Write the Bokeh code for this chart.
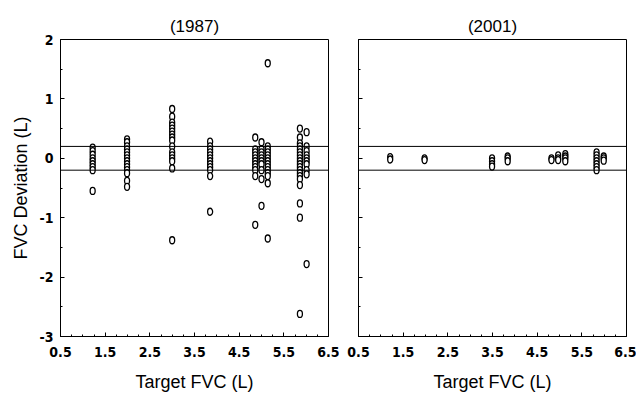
from bokeh.plotting import figure
from bokeh.layouts import row
from bokeh.models import Range1d, FixedTicker, Span
from bokeh.embed import file_html
from bokeh.resources import INLINE

# ---- data ----
targets_1987 = [1.22, 1.99, 3.0, 3.85, 4.86, 5.0, 5.14, 5.86, 6.01]
dev_1987 = [
    [0.18, 0.12, 0.06, 0.0, -0.05, -0.1, -0.15, -0.2, -0.55],
    [0.32, 0.27, 0.2, 0.15, 0.1, 0.05, 0.0, -0.05, -0.1, -0.15, -0.2, -0.25, -0.38, -0.48],
    [0.83, 0.7, 0.6, 0.55, 0.5, 0.45, 0.4, 0.35, 0.3, 0.2, 0.1, 0.05, 0.0, -0.05, -0.17, -1.38],
    [0.28, 0.2, 0.15, 0.1, 0.05, 0.0, -0.05, -0.1, -0.15, -0.2, -0.3, -0.9],
    [0.35, 0.15, 0.1, 0.05, 0.0, -0.05, -0.1, -0.15, -0.2, -0.3, -1.12],
    [0.27, 0.15, 0.1, 0.05, 0.0, -0.05, -0.1, -0.2, -0.35, -0.8],
    [1.6, 0.2, 0.15, 0.1, 0.05, 0.0, -0.05, -0.1, -0.15, -0.2, -0.25, -0.3, -0.42, -1.35],
    [0.5, 0.35, 0.25, 0.2, 0.15, 0.1, 0.05, 0.0, -0.05, -0.1, -0.15, -0.2, -0.25, -0.3, -0.35, -0.45, -0.76, -1.0, -2.62],
    [0.44, 0.2, 0.12, 0.05, 0.0, -0.05, -0.1, -0.2, -0.27, -1.78],
]
targets_2001 = [1.21, 1.98, 3.49, 3.84, 4.82, 4.97, 5.13, 5.83, 5.99]
dev_2001 = [
    [0.02, -0.02],
    [0.0, -0.03],
    [0.0, -0.05, -0.1, -0.14],
    [0.03, 0.0, -0.05],
    [0.0, -0.03],
    [0.05, 0.0, -0.03],
    [0.07, 0.03, 0.0, -0.05],
    [0.1, 0.05, 0.0, -0.05, -0.1, -0.15, -0.2],
    [0.03, 0.0, -0.04],
]
limits = [0.2, -0.2]
x_ticks = [0.5, 1.5, 2.5, 3.5, 4.5, 5.5, 6.5]
y_ticks = [-3, -2, -1, 0, 1, 2]
y_tick_labels = ["-3", "-2", "-1", "0", "1", "2"]
titles = ["(1987)", "(2001)"]

TICK_FONT = "'DejaVu Sans Condensed', 'Liberation Sans Narrow', 'Liberation Sans'"
LABEL_FONT = "Liberation Sans"


def flatten(targets, devs):
    xs, ys = [], []
    for t, d in zip(targets, devs):
        for v in d:
            xs.append(t)
            ys.append(v)
    return xs, ys


def make_panel(title, targets, devs, show_ylabels, width, bl, br):
    p = figure(width=width, height=394, output_backend="svg", toolbar_location=None,
               x_range=Range1d(0.5, 6.5), y_range=Range1d(-3, 2),
               min_border_left=bl, min_border_right=br, min_border_top=39,
               min_border_bottom=58, title=title)
    p.title.align = "center"
    p.title.text_font = LABEL_FONT
    p.title.text_font_size = "17px"
    p.title.text_font_style = "normal"
    p.title.text_color = "black"
    p.title.standoff = 7
    p.grid.visible = False
    p.outline_line_color = "black"
    p.outline_line_width = 1
    p.background_fill_color = "white"
    p.border_fill_color = "white"

    xa = p.xaxis[0]
    xa.ticker = FixedTicker(ticks=x_ticks, minor_ticks=[0.5 + 0.25 * i for i in range(25)])
    xa.axis_label = "Target FVC (L)"
    xa.axis_label_text_font = LABEL_FONT
    xa.axis_label_text_font_size = "18px"
    xa.axis_label_text_font_style = "normal"
    xa.axis_label_text_color = "black"
    xa.axis_label_standoff = 12
    xa.major_label_text_font = TICK_FONT
    xa.major_label_text_font_style = "bold"
    xa.major_label_text_font_size = "14px"
    xa.major_label_text_color = "black"
    xa.major_tick_in = 4
    xa.major_tick_out = 0
    xa.minor_tick_in = 2
    xa.minor_tick_out = 0
    xa.major_tick_line_color = "black"
    xa.minor_tick_line_color = "black"
    xa.axis_line_color = None
    xa.major_label_standoff = 10

    ya = p.yaxis[0]
    ya.ticker = FixedTicker(ticks=y_ticks, minor_ticks=[-3 + 0.5 * i for i in range(11)])
    ya.major_tick_in = 4
    ya.major_tick_out = 0
    ya.minor_tick_in = 2
    ya.minor_tick_out = 0
    ya.major_tick_line_color = "black"
    ya.minor_tick_line_color = "black"
    ya.axis_line_color = None
    if show_ylabels:
        ya.axis_label = "FVC Deviation (L)"
        ya.axis_label_text_font = LABEL_FONT
        ya.axis_label_text_font_size = "18px"
        ya.axis_label_text_font_style = "normal"
        ya.axis_label_text_color = "black"
        ya.axis_label_standoff = 6
        ya.major_label_overrides = {t: s for t, s in zip(y_ticks, y_tick_labels)}
        ya.major_label_text_font = TICK_FONT
        ya.major_label_text_font_style = "bold"
        ya.major_label_text_font_size = "14px"
        ya.major_label_text_color = "black"
        ya.major_label_standoff = 7
    else:
        ya.major_label_overrides = {t: "" for t in y_ticks}
        ya.major_label_standoff = 0

    for lim in limits:
        p.add_layout(Span(location=lim, dimension="width", line_color="black", line_width=1))

    xs, ys = flatten(targets, devs)
    p.ellipse(x=xs, y=ys, width=5, height=7, width_units="screen", height_units="screen",
              fill_color="white", line_color="black", line_width=1.3)
    return p


p1 = make_panel(titles[0], targets_1987, dev_1987, True, 339, 60, 11)
p2 = make_panel(titles[1], targets_2001, dev_2001, False, 297, 19, 10)
layout = row(p1, p2)

open("out.html", "w").write(file_html(layout, INLINE))
